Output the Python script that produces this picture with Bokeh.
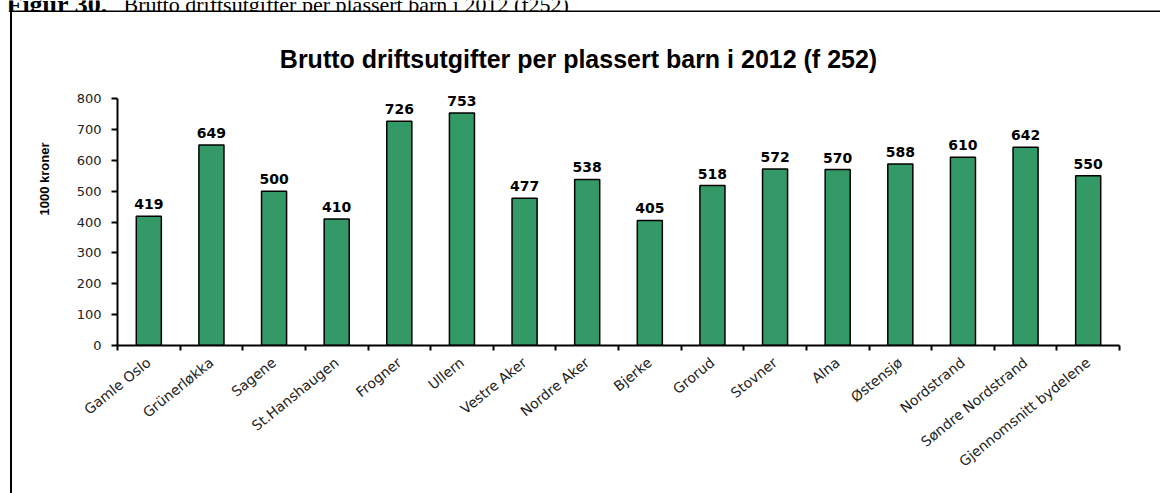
from bokeh.core.properties import value
from bokeh.embed import file_html
from bokeh.layouts import column, row
from bokeh.models import (BoxAnnotation, ColumnDataSource, Div, FixedTicker,
                          Label, LabelSet, Range1d)
from bokeh.plotting import figure
from bokeh.resources import INLINE

# Gross operating expenditure per placed child, 2012 (1000 NOK)
districts = [
    "Gamle Oslo", "Grünerløkka", "Sagene", "St.Hanshaugen", "Frogner",
    "Ullern", "Vestre Aker", "Nordre Aker", "Bjerke", "Grorud", "Stovner",
    "Alna", "Østensjø", "Nordstrand", "Søndre Nordstrand",
    "Gjennomsnitt bydelene",
]
cost_per_child = [419, 649, 500, 410, 726, 753, 477, 538, 405, 518, 572,
                  570, 588, 610, 642, 550]
y_ticks = [0, 100, 200, 300, 400, 500, 600, 700, 800]

caption_lead = "Figur 30."
caption_text = "Brutto driftsutgifter per plassert barn i 2012 (f252)"
chart_title = "Brutto driftsutgifter per plassert barn i 2012 (f 252)"
y_title = "1000 kroner"

BAR_GREEN = "#339966"

# page geometry (pixels)
PAGE_W, PAGE_H = 1160, 493
TOP_H = 12          # strip holding the caption and the box's top edge
LEFT_W = 13         # strip holding the box's left edge
MAIN_W, MAIN_H = PAGE_W - LEFT_W, PAGE_H - TOP_H
PLOT_LEFT, PLOT_RIGHT = 104, 41
PLOT_BOTTOM = 148
AXIS_PX = 247       # pixel height of the 0..800 axis


# caption line and top edge of the chart box
top = figure(width=PAGE_W, height=TOP_H, x_range=Range1d(0, 1),
             y_range=Range1d(0, 1), output_backend="svg",
             toolbar_location=None, x_axis_location=None,
             y_axis_location=None, min_border=0)
top.outline_line_color = None
top.grid.visible = False
top.background_fill_color = "white"
top.border_fill_color = "white"
top.add_layout(BoxAnnotation(
    left=10, right=PAGE_W + 10, top=10, bottom=12.5,
    left_units="canvas", right_units="canvas",
    top_units="canvas", bottom_units="canvas",
    fill_color="black", fill_alpha=1, line_color=None,
))
top.add_layout(Label(
    x=6, y=4, x_units="canvas", y_units="canvas", text=caption_lead,
    text_align="left", text_baseline="alphabetic",
    text_font="Liberation Serif", text_font_style="bold",
    text_font_size="26px", text_color="black",
))
top.add_layout(Label(
    x=123, y=4, x_units="canvas", y_units="canvas", text=caption_text,
    text_align="left", text_baseline="alphabetic",
    text_font="Liberation Serif",
    text_font_size="22px", text_color="black",
))

# left edge of the chart box
left = Div(
    text="", width=LEFT_W, height=MAIN_H, margin=0,
    styles={"background": "linear-gradient(to right, white 10px, black 10px, "
                          "black 12.5px, white 12.5px)"},
)

# main bar chart; the frame runs to the top so the title sits inside it
n = len(districts)
centers = [i + 0.5 for i in range(n)]
source = ColumnDataSource(dict(
    x=centers,
    value=cost_per_child,
    label=[str(v) for v in cost_per_child],
))

frame_h = MAIN_H - PLOT_BOTTOM
y_end = y_ticks[-1] * frame_h / AXIS_PX

p = figure(
    width=MAIN_W, height=MAIN_H,
    x_range=Range1d(0, n), y_range=Range1d(y_ticks[0], y_end),
    output_backend="svg", toolbar_location=None,
    min_border_left=PLOT_LEFT, min_border_right=PLOT_RIGHT,
    min_border_top=0, min_border_bottom=PLOT_BOTTOM,
)
p.outline_line_color = None
p.xgrid.visible = False
p.ygrid.visible = False
p.background_fill_color = "white"
p.border_fill_color = "white"

p.vbar(x="x", top="value", width=0.4, source=source,
       fill_color=BAR_GREEN, line_color="black", line_width=1.5)

p.add_layout(LabelSet(
    x="x", y="value", text="label", source=source,
    text_align="center", text_baseline="alphabetic", y_offset=7,
    text_font=value("DejaVu Sans"), text_font_style="bold",
    text_font_size="14px", text_color="black",
))

# x axis: names under bar centres, tick marks between categories
xax = p.xaxis[0]
xax.ticker = FixedTicker(ticks=centers, minor_ticks=list(range(n + 1)))
xax.major_label_overrides = {c: name for c, name in zip(centers, districts)}
xax.major_label_orientation = 0.68
xax.major_tick_out = 0
xax.major_tick_in = 0
xax.minor_tick_out = 5
xax.minor_tick_in = 0
xax.minor_tick_line_color = "black"
xax.minor_tick_line_width = 2
xax.axis_line_color = "black"
xax.axis_line_width = 2
xax.major_label_standoff = 10
xax.major_label_text_font = "DejaVu Sans"
xax.major_label_text_font_size = "14px"
xax.major_label_text_color = "#222222"

yax = p.yaxis[0]
yax.ticker = FixedTicker(ticks=y_ticks)
yax.bounds = (y_ticks[0], y_ticks[-1])
yax.minor_tick_line_color = None
yax.major_tick_out = 6
yax.major_tick_in = 0
yax.major_tick_line_color = "black"
yax.major_tick_line_width = 2
yax.axis_line_color = "black"
yax.axis_line_width = 2
yax.major_label_standoff = 10
yax.major_label_text_font = "DejaVu Sans"
yax.major_label_text_font_size = "13px"
yax.major_label_text_color = "#222222"
yax.axis_label = y_title
yax.axis_label_text_font = "Liberation Sans"
yax.axis_label_text_font_style = "bold"
yax.axis_label_text_font_size = "13px"
yax.axis_label_text_color = "black"
yax.axis_label_standoff = 22

p.add_layout(Label(
    x=565, y=46, x_units="canvas", y_units="canvas", text=chart_title,
    text_align="center", text_baseline="alphabetic",
    text_font="Liberation Sans", text_font_style="bold",
    text_font_size="25px", text_color="black",
))

page = column(top, row(left, p, spacing=0), spacing=0)

open("out.html", "w").write(file_html(page, INLINE))
